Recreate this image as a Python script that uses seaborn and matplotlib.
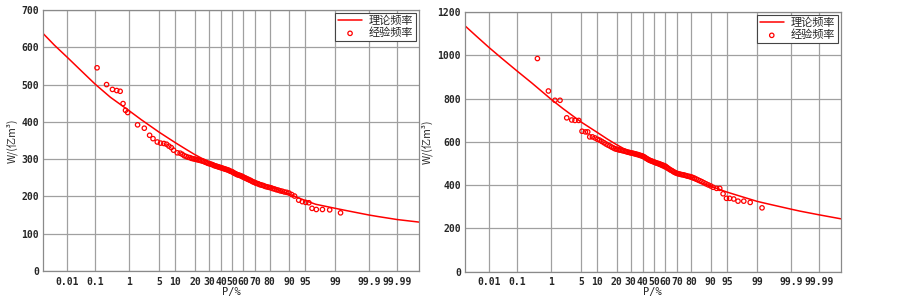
import numpy as np
import pandas as pd
import matplotlib
matplotlib.use("Agg")
import matplotlib.pyplot as plt
import seaborn as sns
from statistics import NormalDist

# ---------------- data (P in %, W in 亿m³) ----------------
tick_values = [0.01, 0.1, 1, 5, 10, 20, 30, 40, 50, 60, 70, 80, 90, 95, 99, 99.9, 99.99]
tick_labels = ["0.01", "0.1", "1", "5", "10", "20", "30", "40", "50", "60", "70",
               "80", "90", "95", "99", "99.9", "99.99"]

curve_p = [0.001, 0.003, 0.01, 0.03, 0.1, 0.3, 1, 2, 5, 10, 15, 20, 30, 40, 50, 60,
           70, 80, 85, 90, 95, 97, 99, 99.5, 99.9, 99.95, 99.99, 99.9988]
left_curve_w = [637, 606, 573, 540, 501, 466, 430, 406, 372, 344, 326, 312, 292, 278,
                266, 253, 241, 227, 218, 206, 189, 179, 168, 162, 150, 146, 138, 131]
right_curve_w = [1137, 1090, 1036, 986, 928, 871, 798, 754, 692, 644, 611, 587, 551,
                 524, 499, 474, 451, 427, 412, 395, 368, 353, 325, 313, 289, 280, 263, 244]

left_emp_p = [0.115, 0.23, 0.345, 0.46, 0.575, 0.69, 0.805, 0.92, 1.64, 2.37, 3.12,
              3.70, 4.55, 5.30, 6.15, 6.93, 7.65, 8.46, 9.29, 10.75,
              12, 13, 14, 15, 16, 17, 18, 19, 20, 21, 22, 23, 24, 25, 26, 27, 28, 29,
              30, 31, 32, 33, 34, 35, 36, 37, 38, 39, 40, 41, 42, 43, 44, 45, 46, 47,
              48, 49, 50, 51, 52, 53, 54, 55, 56, 57, 58, 59, 60, 61, 62, 63, 64, 65,
              66, 67, 68, 69, 70, 71, 72, 73, 74, 75, 76, 77, 78, 79, 80, 81, 82, 83,
              84, 85, 86, 87, 88, 89, 90, 91, 92,
              93.3, 94.3, 95.1, 95.8, 96.4, 97.1, 97.9, 98.6, 99.27]
left_emp_w = [545, 500, 487, 484, 482, 449, 431, 425, 392, 383, 364,
              355, 346, 343, 342, 340, 335, 331, 324, 317,
              316, 313, 309, 307, 305, 304, 302, 301, 300, 299, 298, 297, 296, 295,
              294, 292, 291, 289, 288, 287, 286, 285, 283, 282, 281, 280, 279, 278,
              277, 276, 275, 274, 273, 272, 271, 270, 268, 267, 266, 264, 262, 261,
              259, 258, 257, 256, 255, 253, 252, 250, 249, 247, 246, 244, 243, 241,
              239, 238, 236, 235, 234, 232, 231, 230, 229, 227, 226, 225, 224, 223,
              221, 220, 218, 217, 215, 214, 212, 211, 209, 205, 201,
              190, 186, 184, 183, 168, 165, 165, 164, 156]

right_emp_p = [0.43, 0.866, 1.28, 1.71, 2.46, 3.19, 3.75, 4.49, 5.24, 6.12, 6.77,
               7.38, 8.27, 9.21, 10.1,
               11, 12, 13, 14, 15, 16, 17, 18, 19, 20, 21, 22, 23, 24, 25, 26, 27,
               28, 29, 30, 31, 32, 33, 34, 35, 36, 37, 38, 39, 40, 41, 42, 43, 44,
               45, 46, 47, 48, 49, 50, 51, 52, 53, 54, 55, 56, 57, 58, 59, 60, 61,
               62, 63, 64, 65, 66, 67, 68, 69, 70, 71, 72, 73, 74, 75, 76, 77, 78,
               79, 80, 81, 82, 83, 84, 85, 86, 87, 88, 89, 90,
               90.9, 92.1, 93.1, 94.05, 94.9, 95.6, 96.4, 97.1, 97.86, 98.5, 99.26]
right_emp_w = [985, 835, 792, 792, 711, 701, 699, 699, 649, 646, 646,
               623, 623, 618, 612,
               608, 602, 596, 590, 585, 581, 576, 572, 568, 566, 564, 562, 561,
               559, 558, 556, 554, 552, 551, 549, 548, 547, 545, 544, 542, 541, 539,
               537, 536, 534, 531, 528, 524, 521, 518, 515, 513, 511, 509, 507, 505,
               503, 501, 500, 498, 496, 494, 492, 490, 488, 484, 480, 476, 472, 469,
               466, 462, 459, 456, 454, 452, 451, 449, 448, 447, 445, 443, 441, 440,
               438, 435, 432, 428, 424, 420, 416, 411, 406, 401, 396,
               390, 385, 385, 360, 339, 339, 336, 326, 326, 320, 295]

# ---------------- style ----------------
sns.set_style("white")
plt.rcParams["font.family"] = ["Noto Sans CJK SC", "DejaVu Sans"]

_nd = NormalDist()


def p_to_z(p):
    p = np.clip(np.asarray(p, dtype=float) / 100.0, 1e-12, 1 - 1e-12)
    return np.vectorize(_nd.inv_cdf, otypes=[float])(p)


def z_to_p(z):
    z = np.asarray(z, dtype=float)
    return np.vectorize(_nd.cdf, otypes=[float])(z) * 100.0


fig = plt.figure(figsize=(9.03, 2.99), dpi=100)
ax1 = fig.add_axes([43.3 / 903, 1 - 271 / 299, 375.7 / 903, 261 / 299])
ax2 = fig.add_axes([465 / 903, 1 - 271.7 / 299, 375.7 / 903, 259.7 / 299])

RED = "#ff0000"
GRID = "#a0a0a0"
tick_font = dict(family="DejaVu Sans Mono", size=7.0, weight="bold")


def draw(ax, cw, ep, ew, ymax, ystep):
    cdf = pd.DataFrame({"P": curve_p, "W": cw})
    edf = pd.DataFrame({"P": ep, "W": ew})
    sns.lineplot(data=cdf, x="P", y="W", ax=ax, color=RED, lw=1.1,
                 label="理论频率", sort=True)
    sns.scatterplot(data=edf, x="P", y="W", ax=ax, marker="o", s=10,
                    facecolors="none", edgecolor=RED, linewidth=0.9,
                    label="经验频率")
    ax.set_xscale("function", functions=(p_to_z, z_to_p))
    ax.set_xlim(0.00102, 99.99873)
    ax.set_ylim(0, ymax)
    ax.set_xticks(tick_values)
    ax.set_xticklabels(tick_labels)
    ax.minorticks_off()
    ax.set_yticks(np.arange(0, ymax + 1, ystep))
    for lab in ax.get_xticklabels() + ax.get_yticklabels():
        lab.set_fontfamily(tick_font["family"])
        lab.set_fontsize(tick_font["size"])
        lab.set_fontweight(tick_font["weight"])
    ax.tick_params(axis="both", length=0, pad=3)
    ax.tick_params(axis="x", pad=4)
    ax.grid(True, color=GRID, lw=0.9)
    ax.set_axisbelow(True)
    for s in ax.spines.values():
        s.set_color("#8a8a8a")
        s.set_linewidth(0.9)
    ax.set_xlabel("P/%", fontsize=7.5, labelpad=0, family=["DejaVu Sans Mono"])
    ax.set_ylabel("W/(亿m³)", fontsize=7.5, labelpad=3)
    leg = ax.legend(loc="upper right", frameon=True, fancybox=False,
                    edgecolor="#444444", framealpha=1, borderaxespad=0.25,
                    fontsize=8, handlelength=2.2, borderpad=0.25,
                    labelspacing=0.15, handletextpad=0.6)
    leg.get_frame().set_linewidth(0.8)


draw(ax1, left_curve_w, left_emp_p, left_emp_w, 700, 100)
draw(ax2, right_curve_w, right_emp_p, right_emp_w, 1200, 200)

fig.savefig("out.png", dpi=100, facecolor="white")
